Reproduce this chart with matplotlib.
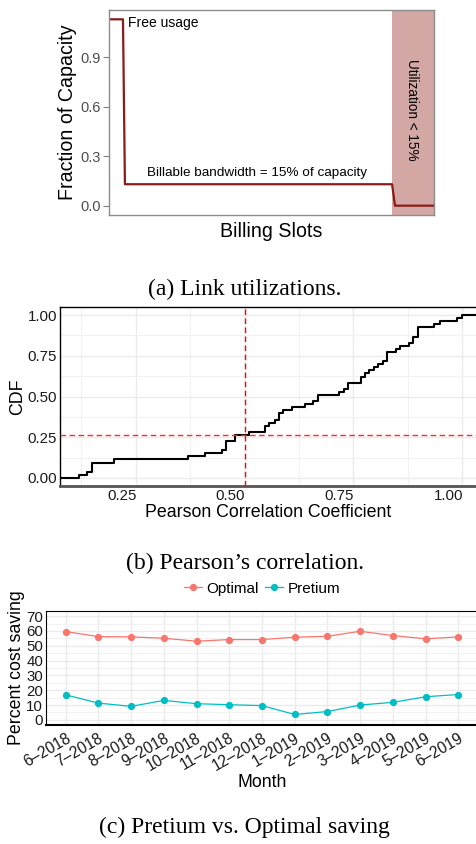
import numpy as np
import matplotlib
matplotlib.use("Agg")
import matplotlib.pyplot as plt
from matplotlib.transforms import ScaledTranslation

plt.rcParams['font.family'] = ['Liberation Sans', 'DejaVu Sans']

# (a) link utilization profile over billing slots (percent of the slots)
slot_pos = [0, 4.3, 4.9, 87.1, 88.0, 100]
slot_frac = [1.13, 1.13, 0.13, 0.13, 0.0, 0.0]
low_util_start = 87.1

# (b) Pearson correlation coefficients and how many links share each value
corr_values = [0.120, 0.138, 0.149, 0.200, 0.370, 0.408, 0.449, 0.458, 0.479, 0.510,
               0.548, 0.557, 0.569, 0.579, 0.588, 0.608, 0.638, 0.658, 0.668, 0.718,
               0.728, 0.738, 0.768, 0.777, 0.787, 0.797, 0.807, 0.817, 0.827, 0.848,
               0.858, 0.878, 0.887, 0.898, 0.936, 0.949, 0.987, 1.000]
corr_counts = [1, 1, 3, 1, 1, 1, 1, 3, 2, 1,
               2, 1, 1, 2, 1, 1, 1, 1, 2, 1,
               1, 2, 2, 1, 1, 1, 1, 1, 3, 1,
               1, 1, 2, 3, 1, 1, 1, 1]
corr_threshold = 0.5

# (c) monthly cost saving
months = ['6–2018', '7–2018', '8–2018', '9–2018', '10–2018', '11–2018', '12–2018',
          '1–2019', '2–2019', '3–2019', '4–2019', '5–2019', '6–2019']
optimal = [59.6, 56.2, 56.0, 55.1, 53.1, 54.2, 54.2, 55.8, 56.4, 59.8, 56.9, 54.7, 56.0]
pretium = [16.9, 11.3, 9.1, 13.1, 10.9, 10.2, 9.6, 3.6, 5.6, 10.0, 11.8, 15.6, 17.1]

W, H = 477, 844
fig = plt.figure(figsize=(W / 100, H / 100), dpi=100)


def rect(left, top, right, bottom):
    return [left / W, 1 - bottom / H, (right - left) / W, (bottom - top) / H]


def caption(y, s):
    fig.text(0.513, 1 - y / H, s, ha='center', va='center',
             family=['Liberation Serif', 'DejaVu Serif'], fontsize=17)


# ---------- (a) Link utilizations ----------
ax1 = fig.add_axes(rect(109, 10, 434, 215))
ax1.axvspan(low_util_start, 100, color='#d3a8a4', lw=0)
ax1.plot(slot_pos, slot_frac, color='#8b1a1a', lw=1.6)
ax1.set_xlim(0, 100)
ax1.set_ylim(-0.0565, 1.1865)
ax1.set_xticks([])
ax1.set_yticks([0.0, 0.3, 0.6, 0.9])
ax1.tick_params(axis='y', colors='#7f7f7f', labelcolor='#4d4d4d', labelsize=10.5,
                length=4, width=0.8, pad=2)
for sp in ax1.spines.values():
    sp.set_color('#8c8c8c')
    sp.set_linewidth(1.0)
ax1.set_ylabel('Fraction of Capacity', fontsize=14.1, labelpad=2)
ax1.set_xlabel('Billing Slots', fontsize=14.1, labelpad=5)
ax1.text(5.9, 1.107, 'Free usage', fontsize=10, va='center', ha='left')
ax1.text(45.4, 0.199, 'Billable bandwidth = 15% of capacity', fontsize=9.7,
         va='center', ha='center')
ax1.text(93.3, 0.58, 'Utilization < 15%', fontsize=9.8, rotation=-90,
         va='center', ha='center')
caption(289, '(a) Link utilizations.')

# ---------- (b) Pearson's correlation ----------
ax2 = fig.add_axes(rect(60, 307, 477, 486))
xmin, xmax = 0.076, 1.034
cum = np.cumsum(corr_counts) / np.sum(corr_counts)
xs = np.concatenate([[xmin], corr_values, [xmax]])
ys = np.concatenate([[0.0], cum, [1.0]])
ax2.set_xticks([0.25, 0.50, 0.75, 1.00])
ax2.set_xticks([0.125, 0.375, 0.625, 0.875], minor=True)
ax2.set_yticks([0.0, 0.25, 0.50, 0.75, 1.00])
ax2.set_yticks([0.125, 0.375, 0.625, 0.875], minor=True)
ax2.set_xticklabels(['0.25', '0.50', '0.75', '1.00'])
ax2.set_yticklabels(['0.00', '0.25', '0.50', '0.75', '1.00'])
ax2.grid(which='major', color='#ebebeb', lw=1.0)
ax2.grid(which='minor', color='#f2f2f2', lw=0.8)
ax2.set_axisbelow(True)
ax2.step(xs, ys, where='post', color='black', lw=1.5, zorder=3)
cdf_at_thr = cum[np.searchsorted(corr_values, corr_threshold, side='right') - 1]
ax2.axvline(corr_threshold, color='#ff0000', lw=1.0, ls=(0, (4, 2.5)), zorder=4)
ax2.axhline(cdf_at_thr, color='#ff2a2a', lw=1.0, ls=(0, (4, 2.5)), zorder=4)
ax2.set_xlim(xmin, xmax)
ax2.set_ylim(-0.05, 1.05)
ax2.tick_params(which='both', length=0, labelsize=10.8, pad=2, labelcolor='#1a1a1a')
ax2.spines['right'].set_visible(False)
ax2.spines['top'].set_linewidth(1.0)
ax2.spines['left'].set_linewidth(1.0)
ax2.spines['bottom'].set_color('#555555')
ax2.spines['bottom'].set_linewidth(2.0)
shift = ScaledTranslation(-0.14, 0, fig.dpi_scale_trans)
for tick in ax2.xaxis.get_major_ticks():
    tick.label1.set_transform(tick.label1.get_transform() + shift)
ax2.set_ylabel('CDF', fontsize=12.8, labelpad=1)
ax2.set_xlabel('Pearson Correlation Coefficient', fontsize=12.8, labelpad=1)
caption(563, '(b) Pearson’s correlation.')

# ---------- (c) Pretium vs. Optimal saving ----------
ax3 = fig.add_axes(rect(46, 611, 478, 725))
idx = np.arange(len(months))
ax3.plot(idx, optimal, color='#f8766d', marker='o', ms=4.2, lw=0.9, label='Optimal')
ax3.plot(idx, pretium, color='#00bfc4', marker='o', ms=4.2, lw=0.9, label='Pretium')
ax3.set_xlim(-0.6, len(months) - 0.4)
ax3.set_ylim(-3.5, 73.5)
ax3.set_yticks(range(0, 71, 10))
ax3.set_yticks(range(5, 70, 10), minor=True)
ax3.set_xticks(idx)
ax3.set_xticklabels(months, rotation=30, ha='right', rotation_mode='anchor')
ax3.grid(which='major', color='#ebebeb', lw=1.0)
ax3.grid(which='minor', axis='y', color='#f2f2f2', lw=0.8)
ax3.set_axisbelow(True)
ax3.tick_params(which='both', length=0, labelsize=10.8, pad=2, labelcolor='#1a1a1a')
ax3.tick_params(axis='x', labelsize=11.2, pad=4)
ax3.spines['right'].set_visible(False)
ax3.spines['bottom'].set_linewidth(1.5)
ax3.set_ylabel('Percent cost saving', fontsize=12.8, labelpad=1)
ax3.set_xlabel('Month', fontsize=12.8, labelpad=0)
ax3.legend(loc='lower center', bbox_to_anchor=(0.5, 1.0), ncol=2, frameon=False,
           fontsize=11, handlelength=1.2, handletextpad=0.3, columnspacing=0.4,
           borderaxespad=0.6)
caption(827, '(c) Pretium vs. Optimal saving')

fig.savefig('out.png', dpi=100)
